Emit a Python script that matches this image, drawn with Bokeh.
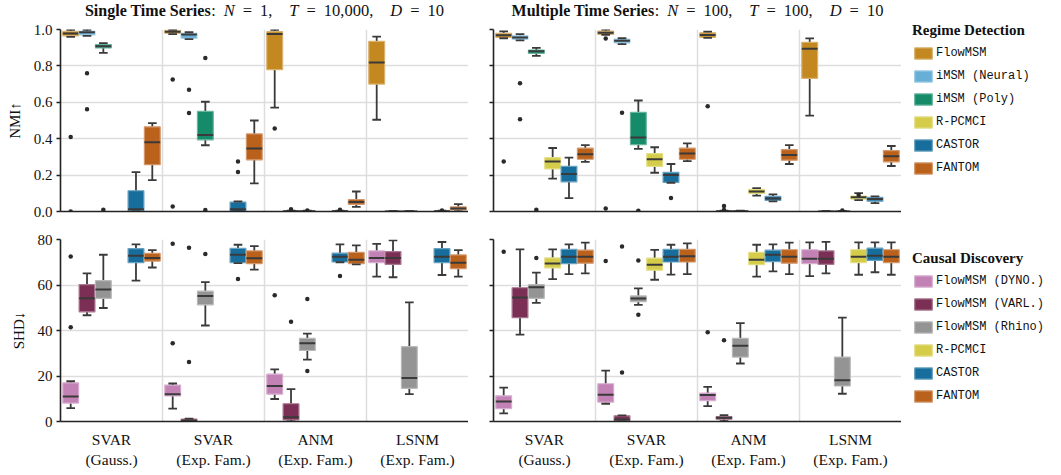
import colorsys
from bokeh.plotting import figure
from bokeh.models import (Range1d, FixedTicker, Label, Legend, LegendItem,
                          ColumnDataSource, PrintfTickFormatter)
from bokeh.layouts import row, column
from bokeh.embed import file_html
from bokeh.resources import INLINE

# ---------------------------------------------------------------- data
DATASETS = ["SVAR\n(Gauss.)", "SVAR\n(Exp. Fam.)", "ANM\n(Exp. Fam.)", "LSNM\n(Exp. Fam.)"]

RD_METHODS = ["FlowMSM", "iMSM (Neural)", "iMSM (Poly)", "R-PCMCI", "CASTOR", "FANTOM"]
CD_METHODS = ["FlowMSM (DYNO.)", "FlowMSM (VARL.)", "FlowMSM (Rhino)", "R-PCMCI", "CASTOR", "FANTOM"]

RD_BASE = ["#DE8F05", "#56B4E9", "#029E73", "#ECE133", "#0173B2", "#D55E00"]
CD_BASE = ["#CC78BC", "#882255", "#949494", "#ECE133", "#0173B2", "#D55E00"]

NMI_TICKS = [0.0, 0.2, 0.4, 0.6, 0.8, 1.0]
SHD_TICKS = [0, 20, 40, 60, 80]

# box statistics per dataset: (low whisker, q1, median, q3, high whisker); None = not run
SINGLE_NMI = {
    "FlowMSM":       [(0.960, 0.965, 0.978, 0.990, 0.998), (0.975, 0.980, 0.987, 0.995, 0.998),
                      (0.571, 0.780, 0.975, 0.988, 0.998), (0.504, 0.700, 0.819, 0.935, 0.961)],
    "iMSM (Neural)": [(0.965, 0.970, 0.985, 0.990, 0.998), (0.947, 0.952, 0.972, 0.979, 0.985),
                      (0.000, 0.000, 0.001, 0.003, 0.005), (0.000, 0.000, 0.000, 0.001, 0.002)],
    "iMSM (Poly)":   [(0.872, 0.899, 0.908, 0.917, 0.925), (0.364, 0.394, 0.420, 0.550, 0.603),
                      (0.000, 0.000, 0.001, 0.002, 0.004), (0.000, 0.000, 0.000, 0.001, 0.002)],
    "R-PCMCI":       [None, None, None, None],
    "CASTOR":        [(0.000, 0.004, 0.013, 0.114, 0.216), (0.000, 0.000, 0.012, 0.052, 0.055),
                      (0.000, 0.000, 0.001, 0.003, 0.005), (0.000, 0.000, 0.001, 0.002, 0.004)],
    "FANTOM":        [(0.172, 0.257, 0.381, 0.465, 0.486), (0.154, 0.284, 0.346, 0.426, 0.500),
                      (0.025, 0.039, 0.052, 0.066, 0.110), (0.000, 0.009, 0.017, 0.025, 0.040)],
}
SINGLE_NMI_OUT = {
    "FlowMSM": [[0.41, 0.0], [0.725, 0.027], [0.456], []],
    "iMSM (Neural)": [[0.76, 0.562], [0.669, 0.541], [0.013], []],
    "iMSM (Poly)": [[0.009], [0.843, 0.008], [0.005], []],
    "R-PCMCI": [[], [], [], []],
    "CASTOR": [[], [0.275, 0.217], [0.01], [0.005]],
    "FANTOM": [[], [], [], []],
}

MULTI_NMI = {
    "FlowMSM":       [(0.952, 0.957, 0.968, 0.979, 0.990), (0.970, 0.973, 0.982, 0.991, 0.999),
                      (0.954, 0.957, 0.970, 0.982, 0.988), (0.527, 0.731, 0.894, 0.930, 0.951)],
    "iMSM (Neural)": [(0.940, 0.947, 0.956, 0.965, 0.975), (0.920, 0.926, 0.938, 0.947, 0.952),
                      (0.000, 0.000, 0.001, 0.003, 0.005), (0.000, 0.000, 0.000, 0.001, 0.002)],
    "iMSM (Poly)":   [(0.855, 0.869, 0.880, 0.887, 0.899), (0.344, 0.367, 0.406, 0.545, 0.610),
                      (0.000, 0.000, 0.001, 0.002, 0.004), (0.000, 0.000, 0.000, 0.001, 0.003)],
    "R-PCMCI":       [(0.181, 0.234, 0.275, 0.296, 0.349), (0.213, 0.248, 0.287, 0.318, 0.353),
                      (0.087, 0.099, 0.110, 0.122, 0.128), (0.062, 0.068, 0.078, 0.085, 0.101)],
    "CASTOR":        [(0.074, 0.163, 0.206, 0.248, 0.296), (0.158, 0.160, 0.200, 0.215, 0.261),
                      (0.056, 0.061, 0.071, 0.083, 0.094), (0.046, 0.057, 0.069, 0.078, 0.083)],
    "FANTOM":        [(0.273, 0.287, 0.314, 0.348, 0.365), (0.277, 0.287, 0.318, 0.348, 0.374),
                      (0.261, 0.282, 0.311, 0.340, 0.365), (0.250, 0.273, 0.303, 0.335, 0.360)],
}
MULTI_NMI_OUT = {
    "FlowMSM": [[0.275], [0.951, 0.016], [0.578], []],
    "iMSM (Neural)": [[0.704, 0.507], [0.543], [0.03, 0.008], []],
    "iMSM (Poly)": [[0.009], [0.004], [], [0.005]],
    "R-PCMCI": [[], [], [], [0.09]],
    "CASTOR": [[], [0.074], [], []],
    "FANTOM": [[], [], [], []],
}

SINGLE_SHD = {
    "FlowMSM (DYNO.)": [(5.9, 8.1, 11.0, 17.0, 17.7), (5.7, 11.3, 12.0, 16.0, 16.7),
                        (9.9, 12.0, 15.6, 20.8, 22.9), (63.7, 69.8, 71.9, 75.0, 78.1)],
    "FlowMSM (VARL.)": [(46.7, 48.2, 54.2, 60.2, 65.1), (0.0, 0.0, 0.3, 1.1, 1.3),
                        (0.0, 0.7, 1.9, 7.8, 14.2), (63.4, 69.1, 71.9, 74.7, 79.6)],
    "FlowMSM (Rhino)": [(49.9, 54.1, 58.0, 61.9, 73.3), (42.2, 51.3, 55.2, 57.3, 61.3),
                        (27.2, 31.2, 34.4, 36.5, 38.6), (12.0, 14.6, 19.1, 32.9, 52.4)],
    "R-PCMCI":         [None, None, None, None],
    "CASTOR":          [(61.9, 69.8, 72.9, 76.0, 77.9), (69.6, 69.8, 73.3, 76.1, 77.7),
                        (70.0, 70.1, 72.4, 74.0, 77.9), (64.4, 69.8, 72.4, 76.0, 78.9)],
    "FANTOM":          [(67.7, 70.5, 71.9, 73.9, 75.3), (66.8, 69.4, 71.8, 75.0, 77.1),
                        (69.1, 69.4, 71.1, 74.3, 77.4), (63.7, 67.2, 69.8, 73.2, 75.3)],
}
SINGLE_SHD_OUT = {
    "FlowMSM (DYNO.)": [[72.5, 41.4], [78.1, 34.4], [55.5], []],
    "FlowMSM (VARL.)": [[], [76.4, 26.1], [43.9], []],
    "FlowMSM (Rhino)": [[], [73.6], [53.8, 22.2], []],
    "R-PCMCI": [[], [], [], []],
    "CASTOR": [[], [62.6], [64.0], []],
    "FANTOM": [[], [], [], []],
}

MULTI_SHD = {
    "FlowMSM (DYNO.)": [(3.6, 5.7, 8.8, 11.3, 14.9), (7.8, 8.5, 11.8, 16.6, 22.4),
                        (6.8, 9.2, 11.6, 12.5, 15.2), (63.9, 69.4, 71.5, 75.5, 78.7)],
    "FlowMSM (VARL.)": [(38.2, 45.6, 54.5, 58.8, 75.7), (0.0, 0.3, 0.9, 2.5, 2.7),
                        (0.2, 1.0, 1.7, 2.1, 2.8), (65.1, 69.1, 71.5, 75.0, 79.0)],
    "FlowMSM (Rhino)": [(52.1, 54.1, 59.0, 60.2, 65.4), (51.3, 52.7, 54.1, 55.2, 58.5),
                        (25.5, 28.3, 33.3, 36.5, 43.2), (12.2, 15.6, 18.1, 28.3, 45.7)],
    "R-PCMCI":         [(62.6, 67.5, 69.4, 71.9, 75.7), (62.3, 66.5, 68.9, 71.8, 75.4),
                        (63.7, 68.9, 71.1, 74.3, 77.7), (64.5, 69.8, 72.4, 75.5, 78.7)],
    "CASTOR":          [(64.8, 69.4, 72.4, 75.7, 77.9), (64.6, 70.1, 72.4, 75.7, 77.7),
                        (66.0, 70.3, 73.3, 75.3, 77.9), (65.6, 70.8, 72.9, 76.2, 78.7)],
    "FANTOM":          [(65.1, 69.6, 72.4, 75.3, 78.6), (64.8, 70.1, 72.6, 75.7, 78.3),
                        (64.8, 69.6, 72.4, 75.5, 78.6), (64.5, 69.8, 72.4, 75.5, 78.7)],
}
MULTI_SHD_OUT = {
    "FlowMSM (DYNO.)": [[74.6], [70.5], [39.2], []],
    "FlowMSM (VARL.)": [[], [76.9, 21.5], [35.7], []],
    "FlowMSM (Rhino)": [[71.9], [70.8, 46.9], [], []],
    "R-PCMCI": [[], [], [], []],
    "CASTOR": [[], [], [], []],
    "FANTOM": [[], [], [], []],
}

# ---------------------------------------------------------------- style
SERIF = "Liberation Serif"
MONO = "Liberation Mono"
DARK = "#3a3a3a"
SPINE = "#222222"
GRID = "#dddddd"
SLOT = 0.16
BOX_W = 0.155
CAP_W = 0.085
FRAME_W = 408
FRAME_H = 182


def desaturate(hx, prop=0.75):
    r, g, b = [int(hx[i:i + 2], 16) / 255 for i in (1, 3, 5)]
    h, l, s = colorsys.rgb_to_hls(r, g, b)
    r, g, b = colorsys.hls_to_rgb(h, l, s * prop)
    return "#%02x%02x%02x" % tuple(int(round(c * 255)) for c in (r, g, b))


def mix(hx, t=0.4):
    r, g, b = [int(hx[i:i + 2], 16) for i in (1, 3, 5)]
    return "#%02x%02x%02x" % tuple(int(round(c + (255 - c) * t)) for c in (r, g, b))


RD_COLORS = [desaturate(c) for c in RD_BASE]
CD_COLORS = [desaturate(c) for c in CD_BASE]

# Times-metric widths (em) for title composition
W_REG = {":": .278, "=": .564, ",": .25, " ": .25, **{d: .5 for d in "0123456789"}}
W_ITA = {"N": .667, "T": .556, "D": .722}
W_BOLD = {"S": .556, "i": .278, "n": .556, "g": .5, "l": .278, "e": .444, " ": .25,
          "T": .667, "m": .833, "r": .444, "s": .389, "M": .944, "u": .556, "t": .333,
          "p": .556}


def text_width(txt, style, size):
    table = {"bold": W_BOLD, "italic": W_ITA, "normal": W_REG}[style]
    return sum(table.get(ch, 0.5) for ch in txt) * size


TITLE_H = 20


def title_fig(left, width, bold, n, t, d):
    p = figure(width=width, height=TITLE_H, x_range=Range1d(-0.5, 3.5), y_range=Range1d(0, 1),
               x_axis_location=None, y_axis_location=None, toolbar_location=None,
               title=None, output_backend="svg", min_border_left=left, min_border_right=0,
               min_border_top=0, min_border_bottom=0)
    p.outline_line_color = None
    p.grid.visible = False
    g1, g2, g3 = 8, 8, 17
    parts = [(bold, "bold", 16, 0), (":", "normal", 16, 0),
             ("N", "italic", 16.5, g1), ("=", "normal", 16.5, g2), (n + ",", "normal", 16.5, g2),
             ("T", "italic", 16.5, g3), ("=", "normal", 16.5, g2), (t + ",", "normal", 16.5, g2),
             ("D", "italic", 16.5, g3), ("=", "normal", 16.5, g2), (d, "normal", 16.5, g2)]
    total = sum(text_width(tx, st, sz) + gap for tx, st, sz, gap in parts)
    xoff = -total / 2
    for tx, st, sz, gap in parts:
        xoff += gap
        p.add_layout(Label(x=1.5, y=0.5, x_offset=xoff, y_offset=0, text=tx,
                           text_font=SERIF, text_font_style=st, text_font_size=f"{sz}px",
                           text_color="#111111", text_align="left",
                           text_baseline="middle"))
        xoff += text_width(tx, st, sz)
    return p


def make_panel(stats, outs, methods, colors, yr, ticks, fmt, left, top, bottom,
               ylabel=None, xlabels=False, ylabels=True):
    p = figure(frame_width=FRAME_W, frame_height=FRAME_H,
               x_range=Range1d(-0.5, 3.5), y_range=Range1d(*yr),
               toolbar_location=None, output_backend="svg",
               min_border_left=left, min_border_right=0,
               min_border_top=top, min_border_bottom=bottom)
    p.outline_line_color = None
    p.background_fill_color = "white"
    p.border_fill_color = "white"

    # grid
    p.ygrid.ticker = FixedTicker(ticks=ticks)
    p.ygrid.grid_line_color = GRID
    p.ygrid.grid_line_width = 1.5
    p.xgrid.ticker = FixedTicker(ticks=[0.5, 1.5, 2.5])
    p.xgrid.grid_line_color = GRID
    p.xgrid.grid_line_width = 1.5

    # axes
    for ax in (p.xaxis, p.yaxis):
        ax.axis_line_color = SPINE
        ax.axis_line_width = 1.6
    if ylabels:
        p.yaxis.ticker = FixedTicker(ticks=ticks)
        p.yaxis.formatter = PrintfTickFormatter(format=fmt)
        p.yaxis.major_tick_line_color = SPINE
        p.yaxis.major_tick_line_width = 1.4
        p.yaxis.major_tick_out = 4
        p.yaxis.major_tick_in = 0
        p.yaxis.minor_tick_line_color = None
        p.yaxis.major_label_standoff = 4
        p.yaxis.major_label_text_font = SERIF
        p.yaxis.major_label_text_color = "#111111"
        p.yaxis.major_label_text_font_size = "15px"
    else:
        # tick marks only, no labels: use minor ticks
        p.yaxis.ticker = FixedTicker(ticks=[], minor_ticks=ticks)
        p.yaxis.minor_tick_line_color = SPINE
        p.yaxis.minor_tick_line_width = 1.4
        p.yaxis.minor_tick_out = 4
        p.yaxis.minor_tick_in = 0
    if ylabel:
        p.yaxis.axis_label = ylabel
        p.yaxis.axis_label_text_font = SERIF
        p.yaxis.axis_label_text_font_style = "normal"
        p.yaxis.axis_label_text_font_size = "15px"
        p.yaxis.axis_label_text_color = "#111111"
        p.yaxis.axis_label_standoff = 8

    p.xaxis.minor_tick_line_color = None
    p.xaxis.major_tick_line_color = None
    if xlabels:
        p.xaxis.ticker = FixedTicker(ticks=list(range(len(DATASETS))))
        p.xaxis.major_label_overrides = {i: name for i, name in enumerate(DATASETS)}
        p.xaxis.major_label_text_font = SERIF
        p.xaxis.major_label_text_color = "#111111"
        p.xaxis.major_label_standoff = 3
        p.xaxis.major_label_text_font_size = "15.5px"
    else:
        p.xaxis.ticker = FixedTicker(ticks=[])

    for mi, m in enumerate(methods):
        c = colors[mi]
        rows = [(gi, s) for gi, s in enumerate(stats[m]) if s is not None]
        if rows:
            xs = [gi + (mi - 2.5) * SLOT for gi, _ in rows]
            src = ColumnDataSource(dict(
                x=xs,
                lo=[s[0] for _, s in rows], q1=[s[1] for _, s in rows],
                med=[s[2] for _, s in rows], q3=[s[3] for _, s in rows],
                hi=[s[4] for _, s in rows],
                bl=[x - BOX_W / 2 for x in xs], br=[x + BOX_W / 2 for x in xs],
                cl=[x - CAP_W / 2 for x in xs], cr=[x + CAP_W / 2 for x in xs]))
            seg = dict(source=src, line_color=DARK, line_width=1.8)
            p.segment(x0="x", y0="lo", x1="x", y1="q1", **seg)
            p.segment(x0="x", y0="q3", x1="x", y1="hi", **seg)
            p.vbar(x="x", width=BOX_W, bottom="q1", top="q3", source=src,
                   fill_color=c, line_color=mix(c, 0.35), line_width=1.2)
            p.segment(x0="bl", y0="med", x1="br", y1="med", source=src,
                      line_color=DARK, line_width=2.0)
            p.segment(x0="cl", y0="lo", x1="cr", y1="lo", **seg)
            p.segment(x0="cl", y0="hi", x1="cr", y1="hi", **seg)
        ox, oy = [], []
        for gi, vals in enumerate(outs[m]):
            for v in vals:
                ox.append(gi + (mi - 2.5) * SLOT)
                oy.append(v)
        if ox:
            p.scatter(ox, oy, size=4.5, color="#2a2a2a", line_width=0)
    return p


LEG_W = 144
LEG_MARGIN = 11


def make_legend_fig(title, methods, colors, height, top):
    p = figure(width=LEG_W, height=height, x_range=(0, 1), y_range=(0, 1),
               x_axis_location=None, y_axis_location=None, toolbar_location=None,
               title=None, output_backend="svg", min_border_left=0, min_border_right=0,
               min_border_bottom=0, min_border_top=top)
    p.outline_line_color = None
    p.grid.visible = False
    items = []
    for m, c in zip(methods, colors):
        # swatch renderer placed outside the visible range; only its legend entry shows
        r = p.vbar(x=[5], top=[0], bottom=[0], width=0.1, fill_color=c,
                   line_color=mix(c, 0.35), line_width=1.2)
        items.append(LegendItem(label=m, renderers=[r], index=0))
    leg = Legend(items=items, location="top_left", title=title,
                 title_text_font=SERIF, title_text_font_style="bold",
                 title_text_font_size="15px", title_text_color="#111111",
                 title_standoff=7,
                 label_text_font=MONO, label_text_font_size="12px",
                 label_text_color="#111111",
                 glyph_width=22, glyph_height=14, label_height=14, label_standoff=2,
                 spacing=9, padding=0, margin=LEG_MARGIN,
                 border_line_color=None, background_fill_alpha=0)
    p.add_layout(leg)
    return p


LEFT_B, RIGHT_B = 60, 25
TOP_B, MID_B1, MID_B2, BOT_B = 9, 12, 14, 40
LEFT_W = LEFT_B + FRAME_W
RIGHT_W = RIGHT_B + FRAME_W

tt_l = title_fig(LEFT_B, LEFT_W, "Single Time Series", "1", "10,000", "10")
tt_r = title_fig(RIGHT_B, RIGHT_W, "Multiple Time Series", "100", "100", "10")

tl = make_panel(SINGLE_NMI, SINGLE_NMI_OUT, RD_METHODS, RD_COLORS, (0, 1.0), NMI_TICKS,
                "%.1f", LEFT_B, TOP_B, MID_B1, ylabel="NMI\u2191")
tr = make_panel(MULTI_NMI, MULTI_NMI_OUT, RD_METHODS, RD_COLORS, (0, 1.0), NMI_TICKS,
                "%.1f", RIGHT_B, TOP_B, MID_B1, ylabels=False)
bl = make_panel(SINGLE_SHD, SINGLE_SHD_OUT, CD_METHODS, CD_COLORS, (0, 80), SHD_TICKS,
                "%d", LEFT_B, MID_B2, BOT_B, ylabel="SHD\u2193", xlabels=True)
br = make_panel(MULTI_SHD, MULTI_SHD_OUT, CD_METHODS, CD_COLORS, (0, 80), SHD_TICKS,
                "%d", RIGHT_B, MID_B2, BOT_B, xlabels=True, ylabels=False)

lt = make_legend_fig("Regime Detection", RD_METHODS, RD_COLORS,
                     TITLE_H + TOP_B + FRAME_H + MID_B1, 22 - LEG_MARGIN)
lb = make_legend_fig("Causal Discovery", CD_METHODS, CD_COLORS,
                     MID_B2 + FRAME_H + BOT_B, 27 - LEG_MARGIN)

layout = column(
    row(column(row(tt_l, tt_r), row(tl, tr)), lt),
    row(bl, br, lb),
)

with open("out.html", "w") as f:
    f.write(file_html(layout, INLINE, title="FlowMSM benchmark"))
